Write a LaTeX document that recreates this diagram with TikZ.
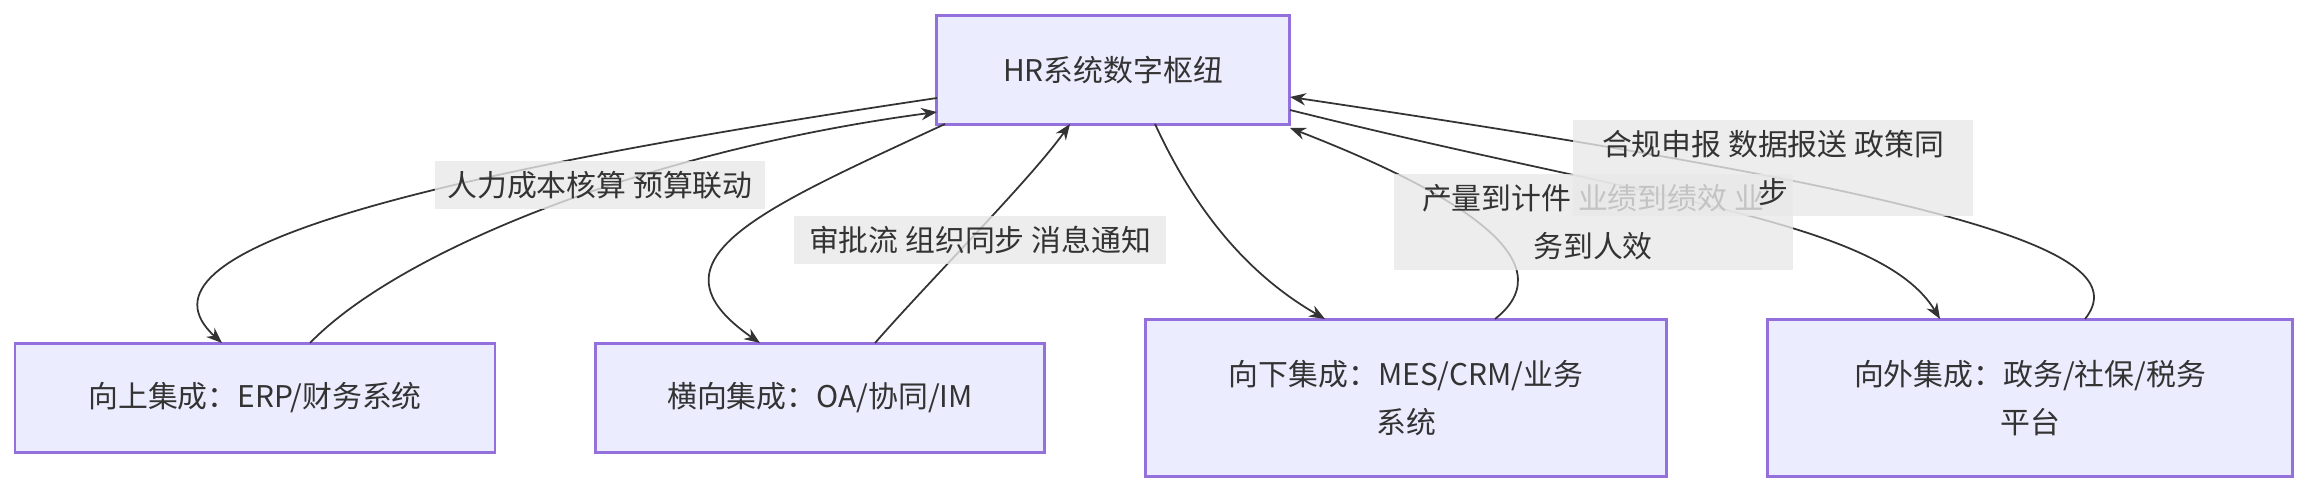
\documentclass[tikz,border=0pt]{standalone}
\usepackage{fontspec}
\setmainfont{Noto Sans CJK SC}
\usetikzlibrary{arrows.meta}
\definecolor{nfill}{HTML}{ECECFF}
\definecolor{ndraw}{HTML}{9370DB}
\definecolor{ln}{HTML}{333333}
\definecolor{lbl}{HTML}{E8E8E8}
\tikzset{
 box/.style={draw=ndraw,fill=nfill,line width=1.2pt,inner sep=0pt,text=ln,align=center,font=\fontsize{17}{27}\selectfont},
 edge/.style={draw=ln,line width=1pt,-{Stealth[length=9pt,width=7pt]}},
 elbl/.style={fill=lbl,fill opacity=0.8,text opacity=1,text=ln,inner sep=3pt,align=center,font=\fontsize{17}{27}\selectfont}
}
\begin{document}
\begin{tikzpicture}[x=0.02cm,y=-0.02cm]
\useasboundingbox (0,0) rectangle (2299,492);
\node[box,minimum width=353*0.02cm,minimum height=109*0.02cm] (hr) at (1113,70) {HR系统数字枢纽};
\node[box,minimum width=480*0.02cm,minimum height=109*0.02cm] (up) at (255,398) {向上集成：ERP/财务系统};
\node[box,minimum width=449*0.02cm,minimum height=109*0.02cm] (hz) at (820,398) {横向集成：OA/协同/IM};
\node[box,minimum width=521*0.02cm,minimum height=157*0.02cm] (dn) at (1406,398) {向下集成：MES/CRM/业务\\系统};
\node[box,minimum width=525*0.02cm,minimum height=157*0.02cm] (out) at (2030,398) {向外集成：政务/社保/税务\\平台};
\coordinate (a1) at (937,98);
\coordinate (a2) at (937,112);
\coordinate (a3) at (945,124);
\coordinate (a4) at (1070,124);
\coordinate (a5) at (1155,124);
\coordinate (a6) at (1290,128);
\coordinate (a7) at (1290,110);
\coordinate (a8) at (1290,97);
\coordinate (b1) at (222,343);
\coordinate (b2) at (310,343);
\coordinate (b3) at (760,343);
\coordinate (b4) at (875,343);
\coordinate (b5) at (1325,319);
\coordinate (b6) at (1495,319);
\coordinate (b7) at (1940,319);
\coordinate (b8) at (2085,319);
\draw[edge] (a1) .. controls (420,175) and (120,250) .. (b1);
\draw[edge] (b2) .. controls (400,250) and (650,150) .. (a2);
\draw[edge] (a3) .. controls (760,210) and (640,260) .. (b3);
\draw[edge] (b4) .. controls (930,280) and (1030,180) .. (a4);
\draw[edge] (a5) .. controls (1190,200) and (1240,270) .. (b5);
\draw[edge] (b6) .. controls (1570,260) and (1450,190) .. (a6);
\draw[edge] (a7) .. controls (1650,200) and (1880,220) .. (b7);
\draw[edge] (b8) .. controls (2140,250) and (1950,195) .. (a8);
\node[elbl,minimum width=330*0.02cm,minimum height=48*0.02cm] (l1) at (600,185) {人力成本核算 预算联动};
\node[elbl,minimum width=372*0.02cm,minimum height=48*0.02cm] (l2) at (980,240) {审批流 组织同步 消息通知};
\node[elbl,minimum width=399*0.02cm,minimum height=96*0.02cm] (l3) at (1593,222) {产量到计件 业绩到绩效 业\\务到人效};
\node[elbl,minimum width=400*0.02cm,minimum height=96*0.02cm] (l4) at (1773,168) {合规申报 数据报送 政策同\\步};
\end{tikzpicture}
\end{document}
